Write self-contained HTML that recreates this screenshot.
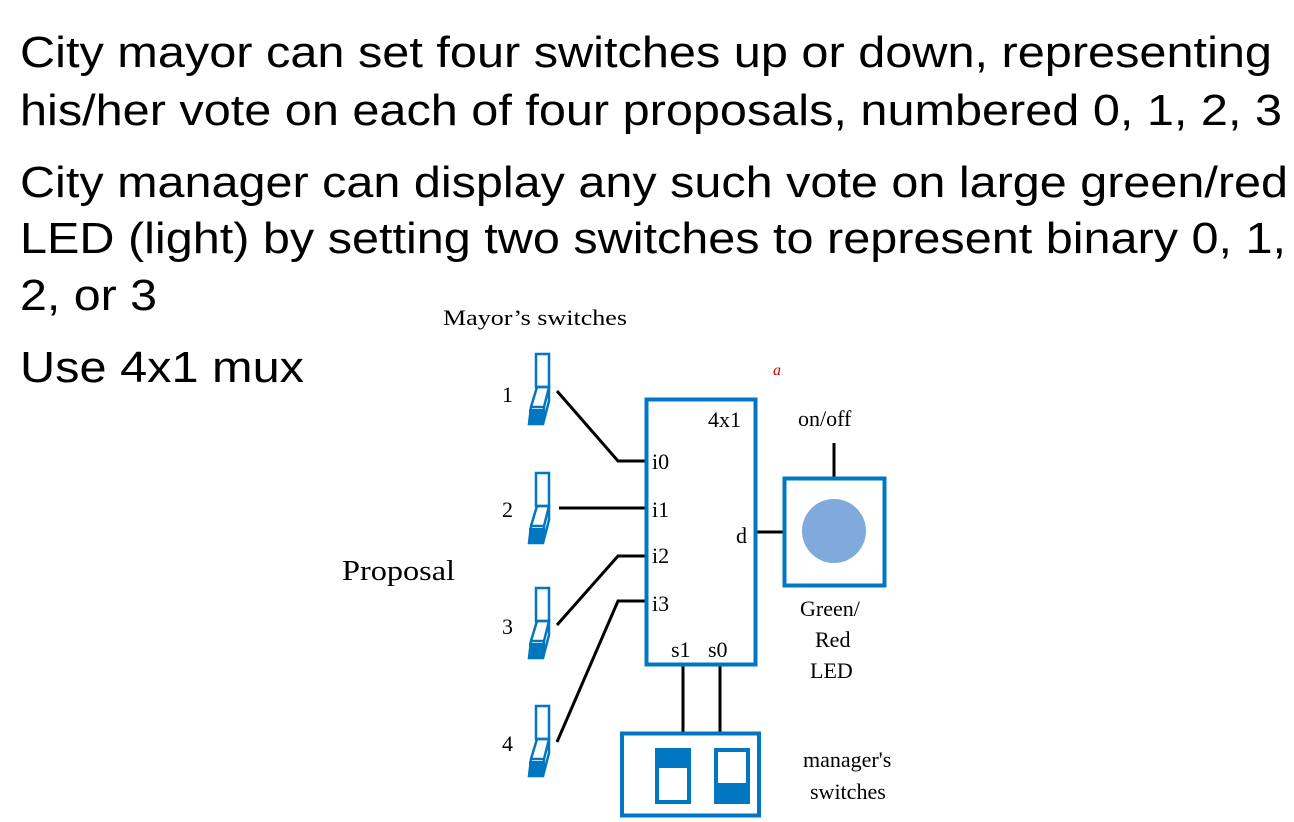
<!DOCTYPE html>
<html><head><meta charset="utf-8"><style>
html,body{margin:0;padding:0;background:#fff;width:1294px;height:822px;overflow:hidden}
svg{display:block}
.b{font-family:"Liberation Sans",Arial,sans-serif;font-size:44px;fill:#000}
.s{font-family:"Liberation Serif","Times New Roman",serif;font-size:22px;fill:#000}
</style></head><body>
<svg width="1294" height="822" viewBox="0 0 1294 822" xmlns="http://www.w3.org/2000/svg">
<text class="b" x="20" y="67" textLength="1252" lengthAdjust="spacingAndGlyphs">City mayor can set four switches up or down, representing</text>
<text class="b" x="20" y="125" textLength="1262" lengthAdjust="spacingAndGlyphs">his/her vote on each of four proposals, numbered 0, 1, 2, 3</text>
<text class="b" x="20" y="197" textLength="1268" lengthAdjust="spacingAndGlyphs">City manager can display any such vote on large green/red</text>
<text class="b" x="20" y="253" textLength="1266" lengthAdjust="spacingAndGlyphs">LED (light) by setting two switches to represent binary 0, 1,</text>
<text class="b" x="20" y="310" textLength="137" lengthAdjust="spacingAndGlyphs">2, or 3</text>
<text class="b" x="20" y="382" textLength="284" lengthAdjust="spacingAndGlyphs">Use 4x1 mux</text>

<text class="s" x="443" y="325" textLength="184" lengthAdjust="spacingAndGlyphs">Mayor’s switches</text>
<text class="s" x="342" y="580" style="font-size:28px" textLength="113" lengthAdjust="spacingAndGlyphs">Proposal</text>
<text x="773" y="375" style="font-family:'Liberation Serif',serif;font-style:italic;font-size:16px;fill:#e00000">a</text>

<defs>
<g id="sw" fill="none" stroke="#0077c0" stroke-width="2.5">
<rect x="536" y="1" width="13" height="33"/>
<path d="M537,34 L549,34 L549,48 L543,71 L529,71 L531,54 Z"/>
<path d="M531,54 L544,54 L549,34"/>
<path d="M544,54 L543,71"/>
<rect x="529" y="56" width="14" height="15" fill="#0077c0" stroke="none"/>
</g>
</defs>
<use href="#sw" y="353"/>
<use href="#sw" y="472"/>
<use href="#sw" y="587"/>
<use href="#sw" y="705"/>
<text class="s" x="502" y="402">1</text>
<text class="s" x="502" y="517">2</text>
<text class="s" x="502" y="634">3</text>
<text class="s" x="502" y="751">4</text>

<g stroke="#000" stroke-width="3" fill="none">
<polyline points="557,391 618,461 645,461"/>
<polyline points="559,508 645,508"/>
<polyline points="557,625 618,556 645,556"/>
<polyline points="557,742 618,601 645,601"/>
<line x1="757" y1="532" x2="783" y2="532"/>
<line x1="834" y1="443" x2="834" y2="477"/>
<line x1="683" y1="666" x2="683" y2="733"/>
<line x1="720" y1="666" x2="720" y2="733"/>
</g>

<rect x="646.5" y="399.5" width="109" height="265" fill="none" stroke="#0077c0" stroke-width="4"/>
<text class="s" x="708" y="427">4x1</text>
<text class="s" x="652" y="469">i0</text>
<text class="s" x="652" y="517">i1</text>
<text class="s" x="652" y="563">i2</text>
<text class="s" x="652" y="611">i3</text>
<text class="s" x="736" y="543">d</text>
<text class="s" x="671" y="657">s1</text>
<text class="s" x="708" y="657">s0</text>

<rect x="784.5" y="478.5" width="100" height="107" fill="none" stroke="#0077c0" stroke-width="4"/>
<circle cx="834" cy="531" r="32" fill="#7faadb"/>
<text class="s" x="798" y="426">on/off</text>
<text class="s" x="800" y="616">Green/</text>
<text class="s" x="815" y="647">Red</text>
<text class="s" x="810" y="678">LED</text>

<rect x="622" y="733.5" width="137" height="82" fill="none" stroke="#0077c0" stroke-width="4"/>
<rect x="657" y="750" width="32" height="52" fill="none" stroke="#0077c0" stroke-width="4"/>
<rect x="655" y="748" width="36" height="20" fill="#0077c0"/>
<rect x="716" y="750" width="32" height="52" fill="none" stroke="#0077c0" stroke-width="4"/>
<rect x="714" y="783" width="36" height="21" fill="#0077c0"/>
<text class="s" x="803" y="767">manager's</text>
<text class="s" x="810" y="799">switches</text>
</svg>
</body></html>
